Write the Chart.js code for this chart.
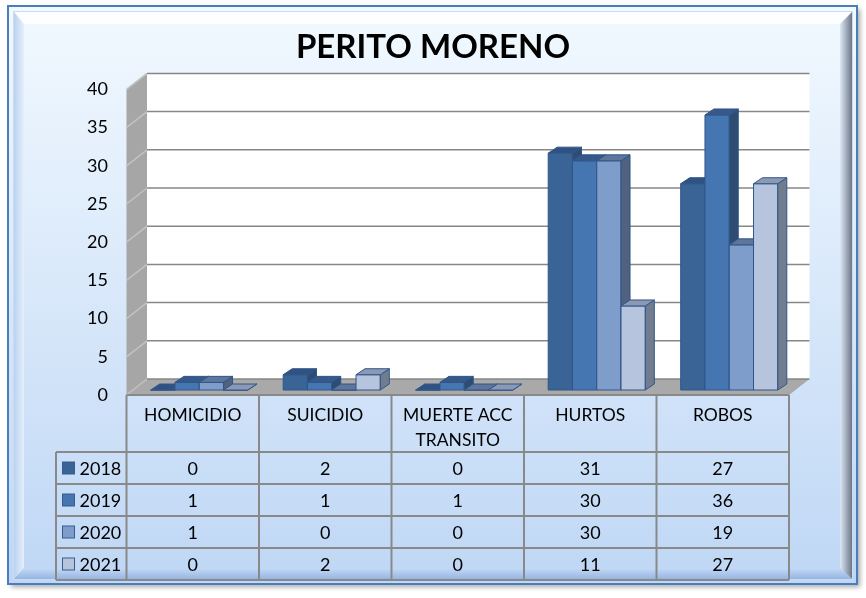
<!DOCTYPE html>
<html>
<head>
<meta charset="utf-8">
<script src="https://cdn.jsdelivr.net/npm/chart.js@4.4.1/dist/chart.umd.min.js"></script>
<style>
  html, body { margin: 0; padding: 0; background: #fff; }
</style>
</head>
<body>
<canvas id="myChart" width="866" height="598"></canvas>
<script>
// datos
const titulo = 'PERITO MORENO';
const categorias = ['HOMICIDIO', 'SUICIDIO', ['MUERTE ACC', 'TRANSITO'], 'HURTOS', 'ROBOS'];
const anios = ['2018', '2019', '2020', '2021'];
const datos2018 = [0, 2, 0, 31, 27];
const datos2019 = [1, 1, 1, 30, 36];
const datos2020 = [1, 0, 0, 30, 19];
const datos2021 = [0, 2, 0, 11, 27];
const ticksY = [0, 5, 10, 15, 20, 25, 30, 35, 40];

const frentes = ['#3b6496', '#4676b1', '#7f9dcb', '#b7c4de'];
const lados = ['#2d4d76', '#2e4b72', '#50627f', '#717c8e'];
const techos = ['#2f5282', '#36598a', '#5f7599', '#8c99b4'];
const borde = '#30568a';

const poly = (ctx, pts, fill, stroke) => {
    ctx.beginPath();
    ctx.moveTo(pts[0][0], pts[0][1]);
    for (let k = 1; k < pts.length; k++) ctx.lineTo(pts[k][0], pts[k][1]);
    ctx.closePath();
    if (fill) { ctx.fillStyle = fill; ctx.fill(); }
    if (stroke) { ctx.strokeStyle = stroke; ctx.stroke(); }
}

// geometria de las paredes, a partir de las escalas
const caja = (chart) => {
    const x = chart.scales.x, y = chart.scales.y;
    const L = x.left - 6.5, R = x.right - 6.5;
    return {
        L, R, dx: 20.5,
        fy: v => y.getPixelForValue(v) + 5,
        by: v => y.getPixelForValue(v) - 11
    };
}

const marco = (ctx) => {
    ctx.save();
    ctx.shadowColor = 'rgba(0,0,0,0.35)';
    ctx.shadowBlur = 5;
    ctx.shadowOffsetX = 3;
    ctx.shadowOffsetY = 3;
    ctx.fillStyle = '#c7ddf6';
    ctx.fillRect(8, 6, 849, 578);
    ctx.restore();

    const g = ctx.createLinearGradient(0, 6, 0, 584);
    g.addColorStop(0, '#f2f9ff');
    g.addColorStop(1, '#bfd7f5');
    ctx.fillStyle = g;
    ctx.fillRect(8, 6, 849, 578);

    const o = { l: 14, t: 12, r: 852, b: 579 };
    const i = { l: 24, t: 24, r: 840, b: 568 };
    poly(ctx, [[o.l, o.t], [o.r, o.t], [i.r, i.t], [i.l, i.t]], 'rgba(255,255,255,0.8)');
    let gl = ctx.createLinearGradient(o.l, 0, i.l, 0);
    gl.addColorStop(0, '#bad2f0');
    gl.addColorStop(1, '#e4effb');
    poly(ctx, [[o.l, o.t], [i.l, i.t], [i.l, i.b], [o.l, o.b]], gl);
    let gr = ctx.createLinearGradient(i.r, 0, o.r, 0);
    gr.addColorStop(0, '#dde9f7');
    gr.addColorStop(1, '#6d7687');
    poly(ctx, [[o.r, o.t], [o.r, o.b], [i.r, i.b], [i.r, i.t]], gr);
    let gb = ctx.createLinearGradient(0, i.b, 0, o.b);
    gb.addColorStop(0, '#c4daf6');
    gb.addColorStop(1, '#97b5e2');
    poly(ctx, [[o.l, o.b], [o.r, o.b], [i.r, i.b], [i.l, i.b]], gb);
    ctx.lineWidth = 1;
    ctx.strokeStyle = '#c9dcf1';
    ctx.strokeRect(o.l - 0.5, o.t - 0.5, o.r - o.l + 1, o.b - o.t + 1);

    ctx.lineWidth = 2;
    ctx.strokeStyle = '#4a7ebb';
    ctx.strokeRect(8, 6, 849, 578);
}

const fondo = {
    id: 'fondo',
    beforeDraw: (chart) => {
        const ctx = chart.ctx;
        const c = caja(chart);
        const top = ticksY[ticksY.length - 1];
        ctx.save();
        marco(ctx);
        // titulo, centrado en todo el grafico
        ctx.fillStyle = '#000';
        ctx.font = 'bold 33px Lato';
        ctx.textAlign = 'center';
        ctx.textBaseline = 'alphabetic';
        ctx.fillText(titulo, chart.width / 2, 58);
        // pared del fondo
        ctx.fillStyle = '#ffffff';
        ctx.fillRect(c.L + c.dx, c.by(top), c.R - c.L, c.by(0) - c.by(top));
        // pared izquierda
        poly(ctx, [[c.L, c.fy(top)], [c.L + c.dx, c.by(top)], [c.L + c.dx, c.by(0)], [c.L, c.fy(0)]], '#a6a6a6');
        // piso
        poly(ctx, [[c.L, c.fy(0)], [c.L + c.dx, c.by(0)], [c.R + c.dx, c.by(0)], [c.R, c.fy(0)]], '#a9a9a9');
        // lineas de division
        ctx.lineWidth = 1.5;
        ticksY.forEach(v => {
            ctx.strokeStyle = '#c2c2c2';
            ctx.beginPath();
            ctx.moveTo(c.L, c.fy(v));
            ctx.lineTo(c.L + c.dx, c.by(v));
            ctx.stroke();
            ctx.strokeStyle = '#878787';
            ctx.beginPath();
            ctx.moveTo(c.L + c.dx, c.by(v));
            ctx.lineTo(c.R + c.dx, c.by(v));
            ctx.stroke();
        });
        ctx.restore();
    },
    beforeDatasetsDraw: (chart) => {
        const ctx = chart.ctx;
        const dx = 9, dy = 6;
        ctx.save();
        ctx.lineWidth = 1;
        for (let j = 0; j < chart.data.labels.length; j++) {
            chart.data.datasets.forEach((ds, i) => {
                const bar = chart.getDatasetMeta(i).data[j];
                const l = bar.x - bar.width / 2, r = bar.x + bar.width / 2;
                const t = bar.y, b = bar.base;
                poly(ctx, [[l, t], [r, t], [r, b], [l, b]], frentes[i], borde);
                poly(ctx, [[r, t], [r + dx, t - dy], [r + dx, b - dy], [r, b]], lados[i], borde);
                poly(ctx, [[l, t], [l + dx, t - dy], [r + dx, t - dy], [r, t]], techos[i], borde);
            });
        }
        ctx.restore();
        return false;
    },
    afterDraw: (chart) => {
        const ctx = chart.ctx;
        const x = chart.scales.x;
        const c = caja(chart);
        const ancho = (c.R - c.L) / categorias.length;
        const arriba = c.fy(0);
        const filas = [452, 484, 516, 548, 580];
        const izq = 56;
        const series = [datos2018, datos2019, datos2020, datos2021];
        ctx.save();
        ctx.strokeStyle = '#898989';
        ctx.lineWidth = 2;
        ctx.beginPath();
        ctx.moveTo(c.L, arriba);
        ctx.lineTo(c.R, arriba);
        filas.forEach(f => {
            ctx.moveTo(izq, f);
            ctx.lineTo(c.R, f);
        });
        ctx.moveTo(izq, filas[0]);
        ctx.lineTo(izq, filas[filas.length - 1]);
        for (let k = 0; k <= categorias.length; k++) {
            ctx.moveTo(c.L + k * ancho, arriba);
            ctx.lineTo(c.L + k * ancho, filas[filas.length - 1]);
        }
        ctx.stroke();

        ctx.fillStyle = '#000';
        ctx.textAlign = 'center';
        ctx.textBaseline = 'alphabetic';
        ctx.font = '17.5px Lato';
        categorias.forEach((cat, j) => {
            const cx = x.getPixelForValue(j) - 6.5;
            const lineas = Array.isArray(cat) ? cat : [cat];
            lineas.forEach((t, n) => ctx.fillText(t, cx, 421 + n * 24.7));
        });

        ctx.font = '18px Lato';
        series.forEach((s, i) => {
            const base = (filas[i] + filas[i + 1]) / 2 + 6.5;
            s.forEach((v, j) => {
                ctx.fillText(String(v), x.getPixelForValue(j) - 6.5, base);
            });
            ctx.textAlign = 'left';
            ctx.fillText(anios[i], 79.5, base);
            ctx.textAlign = 'center';
            const cy = (filas[i] + filas[i + 1]) / 2;
            ctx.lineWidth = 1;
            ctx.fillStyle = frentes[i];
            ctx.fillRect(62.5, cy - 6, 12, 12);
            ctx.strokeStyle = '#385d8a';
            ctx.strokeRect(62.5, cy - 6, 12, 12);
            ctx.fillStyle = '#000';
        });
        ctx.restore();
    }
};

Chart.defaults.font.family = 'Lato';

const ctx = document.getElementById('myChart').getContext('2d');
window.grafica = new Chart(ctx, {
    type: 'bar',
    data: {
        labels: categorias,
        datasets: anios.map((a, i) => ({
            label: a,
            data: [datos2018, datos2019, datos2020, datos2021][i],
            backgroundColor: frentes[i],
            borderColor: borde,
            borderWidth: 1
        }))
    },
    options: {
        responsive: false,
        animation: false,
        devicePixelRatio: 1,
        layout: { padding: { left: 0, right: 70.5, top: 84.4, bottom: 208 } },
        datasets: { bar: { categoryPercentage: 0.733, barPercentage: 1 } },
        scales: {
            x: { display: false },
            y: {
                min: 0,
                max: 40,
                afterBuildTicks: (s) => { s.ticks = ticksY.map(v => ({ value: v })); },
                afterFit: (s) => { s.width = 133; },
                grid: { display: false, drawTicks: false },
                border: { display: false },
                ticks: {
                    color: '#000',
                    padding: 25,
                    labelOffset: 5,
                    font: { size: 18 }
                }
            }
        },
        plugins: {
            legend: { display: false },
            tooltip: { enabled: false },
            title: { display: false }
        }
    },
    plugins: [fondo]
});
</script>
</body>
</html>
